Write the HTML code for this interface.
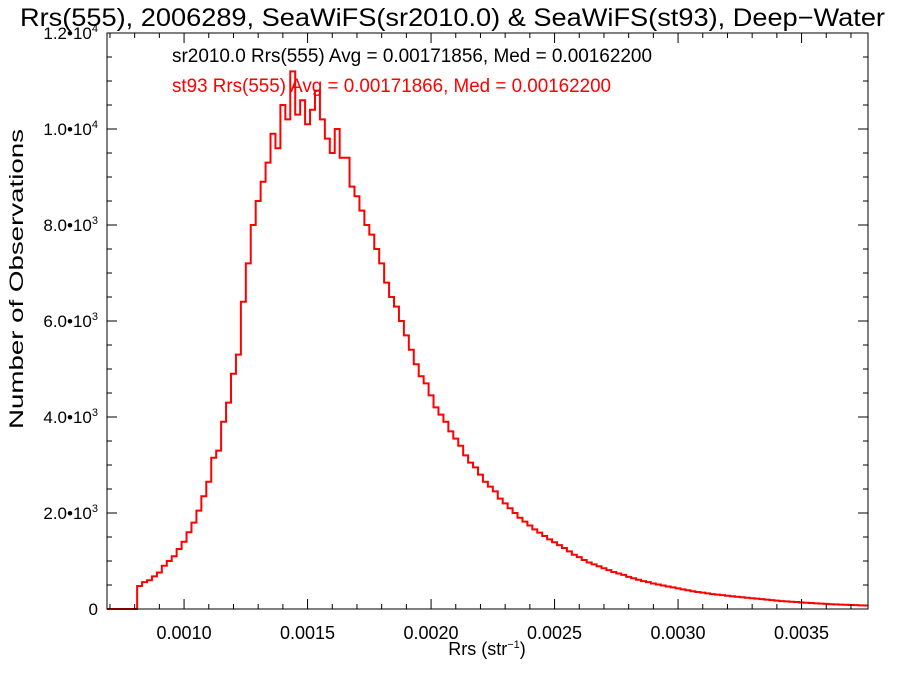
<!DOCTYPE html>
<html><head><meta charset="utf-8"><style>
body{margin:0;background:#fff;}
svg{display:block;font-family:"Liberation Sans",Arial,sans-serif;}
</style></head><body>
<svg id="chart" width="900" height="675"></svg>
<script>
const binStart = 0.00081;
const binWidth = 0.00002;
const counts = [480,560,600,680,760,900,1000,1100,1250,1400,1600,1800,2050,2350,2650,3150,3300,3900,4300,4900,5300,6400,7200,8000,8500,8900,9300,9900,9600,10500,10200,11200,10300,10600,10100,10400,10800,10200,9800,9500,10000,9400,9400,8800,8600,8300,8000,7800,7500,7200,6800,6500,6300,6000,5700,5400,5100,4850,4700,4450,4200,4050,3900,3700,3550,3400,3200,3050,2950,2800,2650,2550,2450,2300,2200,2100,2000,1900,1820,1740,1660,1590,1520,1450,1390,1330,1270,1200,1130,1080,1020,970,930,890,850,810,770,740,710,670,640,610,580,560,530,510,490,470,450,430,410,390,370,355,340,325,310,300,290,275,265,255,245,235,225,215,205,195,185,175,165,160,150,145,135,130,125,118,112,106,100,96,92,88,84,80,76,72];
const xTicks = [0.0010,0.0015,0.0020,0.0025,0.0030,0.0035];
const xTickLabels = ["0.0010","0.0015","0.0020","0.0025","0.0030","0.0035"];
const yTicks = [0,2000,4000,6000,8000,10000,12000];
const yTickMant = ["0","2.0","4.0","6.0","8.0","1.0","1.2"];
const yTickExp = ["","3","3","3","3","4","4"];

const L=107,R=868,T=33,B=609;
const xMin=0.000688, xMax=0.003769, yMax=12000;
const X=v=>L+(v-xMin)/(xMax-xMin)*(R-L);
const Y=c=>B-c/yMax*(B-T);
const NS="http://www.w3.org/2000/svg";
const svg=document.getElementById('chart');
function mk(tag,attrs,parent){const e=document.createElementNS(NS,tag);for(const k in attrs)e.setAttribute(k,attrs[k]);(parent||svg).appendChild(e);return e;}

// histogram
let d=`M${L},${B} L${X(binStart)},${B}`;
counts.forEach((c,i)=>{const x0=X(binStart+i*binWidth),x1=Math.min(R,X(binStart+(i+1)*binWidth));d+=` L${x0},${Y(c)} L${x1},${Y(c)}`;});
const h=mk('path',{d:d,fill:'none',stroke:'#ff0000','stroke-width':2});



// frame
const fr=mk('rect',{x:L,y:T,width:R-L,height:B-T,fill:'none',stroke:'#000','stroke-width':1});



// x ticks
for(let k=7;k<=37;k++){const v=k*0.0001;const x=X(v);if(x<L||x>R)continue;const major=(k%5===0);const len=major?10:5;
  mk('line',{x1:x,y1:B,x2:x,y2:B-len,stroke:'#000'});mk('line',{x1:x,y1:T,x2:x,y2:T+len,stroke:'#000'});}
xTicks.forEach((v,i)=>{const t=mk('text',{x:X(v),y:B+30,'text-anchor':'middle','font-size':18});t.textContent=xTickLabels[i];
  
  });
// y ticks
for(let c=0;c<=12000;c+=500){const y=Y(c);const major=(c%2000===0);const len=major?10:5;
  mk('line',{x1:L,y1:y,x2:L+len,y2:y,stroke:'#000'});mk('line',{x1:R,y1:y,x2:R-len,y2:y,stroke:'#000'});}
yTicks.forEach((c,i)=>{const t=mk('text',{x:98,y:Y(c)+6,'text-anchor':'end','font-size':17});
  if(yTickExp[i]===''){t.textContent=yTickMant[i];}else{
    t.appendChild(document.createTextNode(yTickMant[i]+'•10'));const s=mk('tspan',{dy:-7,'font-size':11},t);s.textContent=yTickExp[i];}
  
  });
</script>
<script>
(function(){
const svg=document.getElementById('chart');
svg.insertAdjacentHTML('beforeend',`
<text x="20" y="26" font-size="25" textLength="865" lengthAdjust="spacingAndGlyphs">Rrs(555), 2006289, SeaWiFS(sr2010.0) &amp; SeaWiFS(st93), Deep−Water</text>
<text x="172" y="62" font-size="19" fill="#000" textLength="480" lengthAdjust="spacingAndGlyphs">sr2010.0 Rrs(555) Avg = 0.00171856, Med = 0.00162200</text>
<text x="172" y="92" font-size="19" fill="#ff0000" textLength="439" lengthAdjust="spacingAndGlyphs">st93 Rrs(555) Avg = 0.00171866, Med = 0.00162200</text>
<text x="487" y="655" text-anchor="middle" font-size="18">Rrs (str<tspan dy="-7" font-size="11">−1</tspan><tspan dy="7">)</tspan></text>
<text transform="translate(23,429) rotate(-90)" font-size="19" textLength="300" lengthAdjust="spacingAndGlyphs">Number of Observations</text>
`);
})();
</script>
</body></html>
